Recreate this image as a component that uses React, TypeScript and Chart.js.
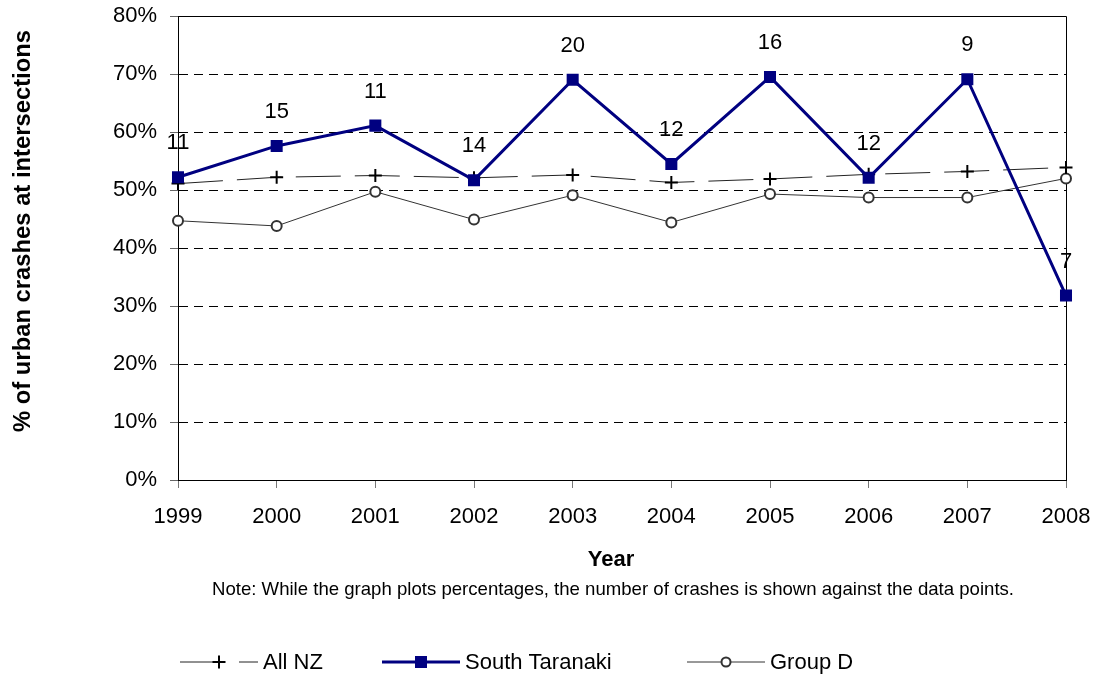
import React, { useEffect, useRef } from "react";
import { Chart, registerables } from "chart.js";

Chart.register(...registerables);

const years = ["1999", "2000", "2001", "2002", "2003", "2004", "2005", "2006", "2007", "2008"];
const allNZ = [51.1, 52.2, 52.5, 52.1, 52.6, 51.3, 51.9, 52.7, 53.2, 53.9];
const southTaranaki = [52.2, 57.6, 61.1, 51.7, 69.0, 54.5, 69.5, 52.1, 69.1, 31.8];
const groupD = [44.7, 43.8, 49.7, 44.9, 49.1, 44.4, 49.3, 48.7, 48.7, 52.0];
const crashCounts = [11, 15, 11, 14, 20, 12, 16, 12, 9, 7];
const yTicks = [0, 10, 20, 30, 40, 50, 60, 70, 80];

const FONT = "'Liberation Sans', Arial, Helvetica, sans-serif";
const NAVY = "#000080";

function drawMarker(ctx: CanvasRenderingContext2D, style: string, x: number, y: number) {
  ctx.save();
  ctx.setLineDash([]);
  if (style === "cross") {
    ctx.strokeStyle = "#000";
    ctx.lineWidth = 2;
    ctx.beginPath();
    ctx.moveTo(x - 6.5, y);
    ctx.lineTo(x + 6.5, y);
    ctx.moveTo(x, y - 6.5);
    ctx.lineTo(x, y + 6.5);
    ctx.stroke();
  } else if (style === "rect") {
    ctx.fillStyle = NAVY;
    ctx.fillRect(x - 6, y - 6, 12, 12);
  } else {
    ctx.fillStyle = "#fff";
    ctx.strokeStyle = "#333";
    ctx.lineWidth = 2;
    ctx.beginPath();
    ctx.arc(x, y, 4.5, 0, Math.PI * 2);
    ctx.fill();
    ctx.stroke();
  }
  ctx.restore();
}

const overlayPlugin = {
  id: "overlay",
  beforeDatasetsDraw(chart: any) {
    const { ctx, chartArea } = chart;
    ctx.save();
    ctx.strokeStyle = "#000";
    ctx.lineWidth = 1;
    ctx.setLineDash([]);
    ctx.beginPath();
    ctx.moveTo(Math.round(chartArea.left) + 0.5, Math.round(chartArea.top) + 0.5);
    ctx.lineTo(Math.round(chartArea.right) + 0.5, Math.round(chartArea.top) + 0.5);
    ctx.lineTo(Math.round(chartArea.right) + 0.5, Math.round(chartArea.bottom) + 0.5);
    ctx.stroke();
    ctx.restore();
  },
  afterDatasetsDraw(chart: any) {
    const { ctx } = chart;
    const idx = chart.data.datasets.findIndex((d: any) => d.label === "South Taranaki");
    const meta = chart.getDatasetMeta(idx);
    ctx.save();
    ctx.font = `22px ${FONT}`;
    ctx.fillStyle = "#000";
    ctx.textAlign = "center";
    ctx.textBaseline = "middle";
    meta.data.forEach((pt: any, i: number) => {
      ctx.fillText(String(crashCounts[i]), pt.x, pt.y - 34);
    });
    ctx.restore();
  },
  afterDraw(chart: any) {
    const { ctx } = chart;
    ctx.save();
    ctx.fillStyle = "#000";
    // y-axis title
    ctx.save();
    ctx.translate(23, 231);
    ctx.rotate(-Math.PI / 2);
    ctx.font = `bold 23.8px ${FONT}`;
    ctx.textAlign = "center";
    ctx.textBaseline = "middle";
    ctx.fillText("% of urban crashes at intersections", 0, 0);
    ctx.restore();
    // x-axis title
    ctx.font = `bold 22px ${FONT}`;
    ctx.textAlign = "center";
    ctx.textBaseline = "alphabetic";
    ctx.fillText("Year", 611, 566);
    // note
    ctx.font = `18.6px ${FONT}`;
    ctx.fillText(
      "Note: While the graph plots percentages, the number of crashes is shown against the data points.",
      613,
      595
    );
    // legend
    const legendX = [180, 382, 687];
    const ly = 662;
    chart.data.datasets.forEach((ds: any, i: number) => {
      const x0 = legendX[i];
      ctx.save();
      ctx.strokeStyle = ds.borderColor;
      ctx.lineWidth = ds.borderWidth;
      ctx.setLineDash(ds.borderDash || []);
      ctx.beginPath();
      ctx.moveTo(x0, ly);
      ctx.lineTo(x0 + 78, ly);
      ctx.stroke();
      ctx.restore();
      drawMarker(ctx, ds.pointStyle, x0 + 39, ly);
      ctx.font = `22px ${FONT}`;
      ctx.textAlign = "left";
      ctx.textBaseline = "alphabetic";
      ctx.fillStyle = "#000";
      ctx.fillText(ds.label, x0 + 83, ly + 7);
    });
    ctx.restore();
  },
};

export default function App() {
  const canvasRef = useRef<HTMLCanvasElement | null>(null);

  useEffect(() => {
    if (!canvasRef.current) return;
    const chart = new Chart(canvasRef.current, {
      type: "line",
      data: {
        labels: years,
        datasets: [
          {
            label: "All NZ",
            data: allNZ,
            borderColor: "#222",
            borderWidth: 1,
            borderDash: [45, 14],
            pointStyle: "cross",
            pointRadius: 6.5,
            pointBorderWidth: 2,
            pointBorderColor: "#000",
            pointBackgroundColor: "#000",
            order: 1,
            tension: 0,
          },
          {
            label: "South Taranaki",
            data: southTaranaki,
            borderColor: NAVY,
            borderWidth: 3,
            pointStyle: "rect",
            pointRadius: 8.5,
            pointBorderWidth: 0,
            pointBackgroundColor: NAVY,
            pointBorderColor: NAVY,
            order: 0,
            tension: 0,
          },
          {
            label: "Group D",
            data: groupD,
            borderColor: "#333",
            borderWidth: 1,
            pointStyle: "circle",
            pointRadius: 5,
            pointBorderWidth: 2,
            pointBorderColor: "#333",
            pointBackgroundColor: "#fff",
            order: 2,
            tension: 0,
          },
        ],
      } as any,
      options: {
        responsive: false,
        animation: false,
        layout: { padding: { top: 16, right: 30, bottom: 134, left: 0 } },
        plugins: {
          legend: { display: false },
          tooltip: { enabled: false },
        },
        scales: {
          x: {
            type: "category",
            offset: false,
            grid: {
              display: true,
              drawOnChartArea: false,
              drawTicks: true,
              tickLength: 8,
              color: "#777",
              tickColor: "#777",
            },
            border: { display: true, color: "#000", width: 1 },
            ticks: {
              color: "#000",
              font: { size: 22, family: FONT },
              padding: 16,
              maxRotation: 0,
              autoSkip: false,
            },
            afterFit: (s: any) => {
              s.height = 60;
              s.paddingLeft = 0;
              s.paddingRight = 0;
            },
          },
          y: {
            min: 0,
            max: 80,
            afterBuildTicks: (s: any) => {
              s.ticks = yTicks.map((v) => ({ value: v }));
            },
            grid: {
              color: "#000",
              lineWidth: 1,
              drawTicks: true,
              tickLength: 8,
              tickColor: "#666",
            },
            border: { display: true, color: "#000", width: 1, dash: [9, 6] },
            ticks: {
              color: "#000",
              font: { size: 22, family: FONT },
              padding: 13,
              callback: (v: any) => `${v}%`,
            },
            afterFit: (s: any) => {
              s.width = 178;
              s.paddingTop = 0;
              s.paddingBottom = 0;
            },
          },
        },
      } as any,
      plugins: [overlayPlugin],
    });
    return () => chart.destroy();
  }, []);

  return (
    <canvas
      ref={canvasRef}
      width={1096}
      height={674}
      style={{ position: "fixed", left: 0, top: 0, width: 1096, height: 674 }}
    />
  );
}
